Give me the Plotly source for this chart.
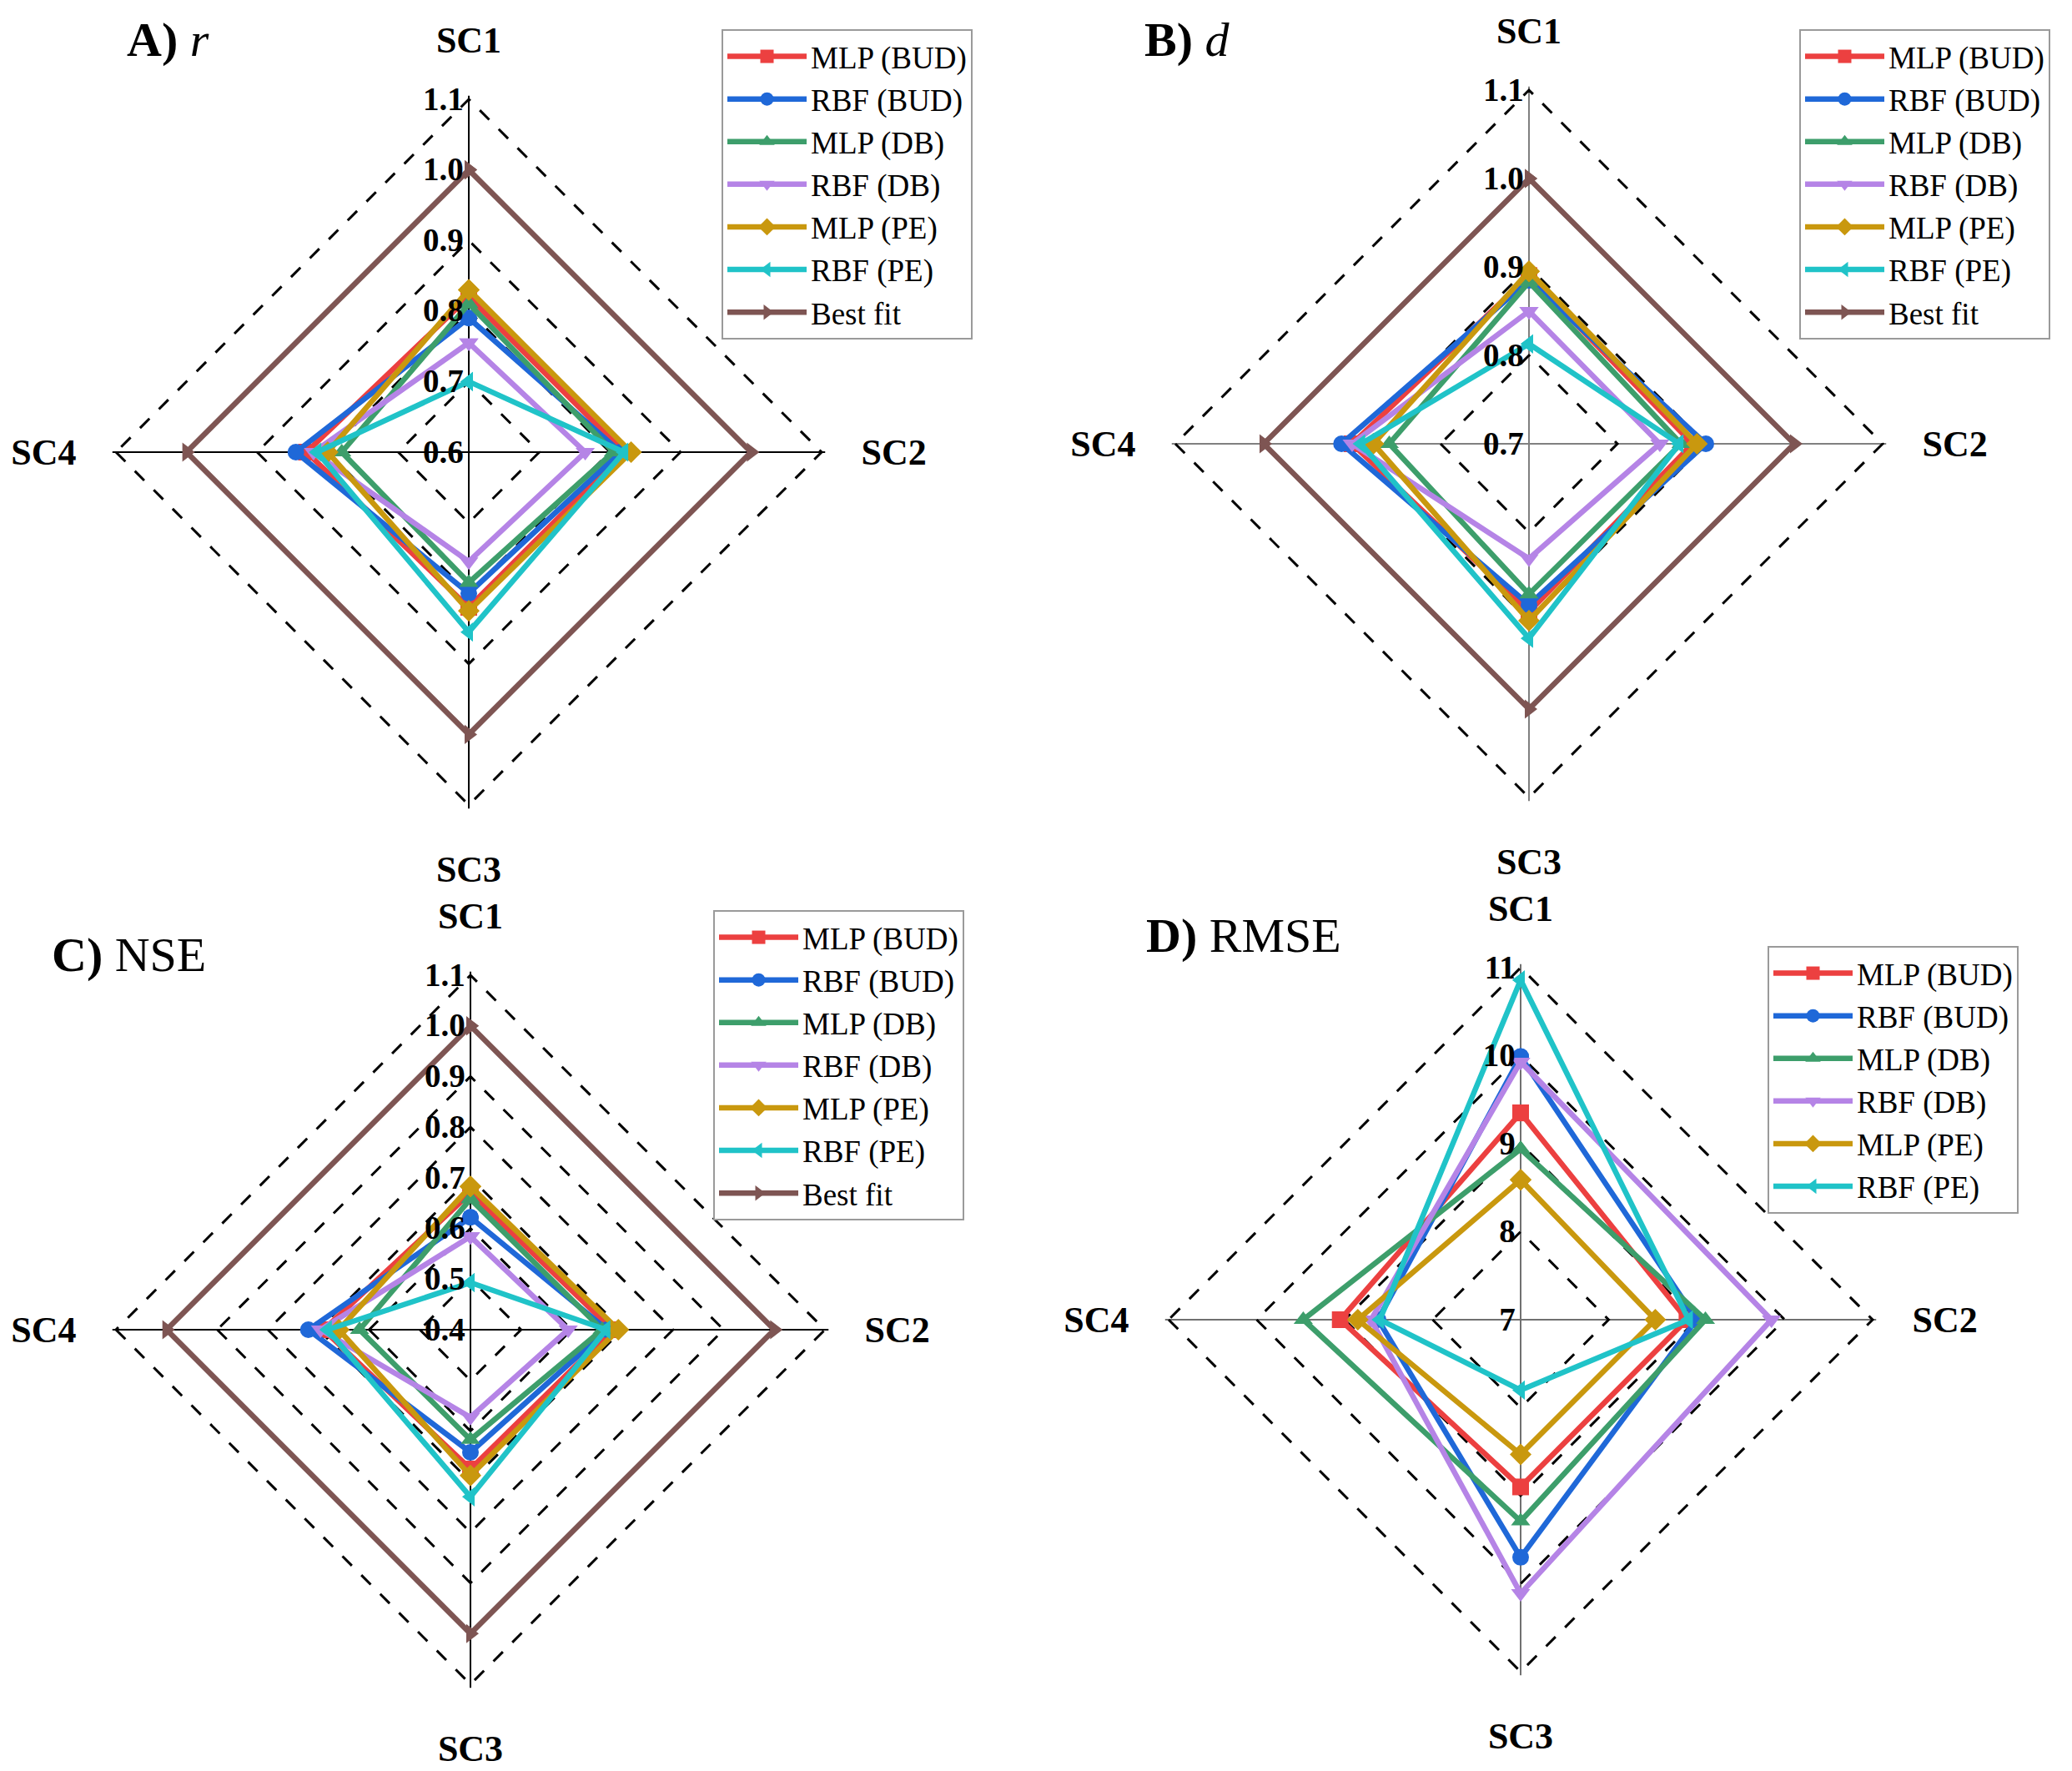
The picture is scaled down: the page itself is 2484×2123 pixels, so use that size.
import plotly.graph_objects as go

# ---------------- data ----------------
categories = ["SC1", "SC2", "SC3", "SC4"]
series_names = ["MLP (BUD)", "RBF (BUD)", "MLP (DB)", "RBF (DB)", "MLP (PE)", "RBF (PE)", "Best fit"]

# Panel A: r
r_mlp_bud = [0.82, 0.82, 0.82, 0.83]
r_rbf_bud = [0.79, 0.815, 0.80, 0.845]
r_mlp_db = [0.81, 0.805, 0.785, 0.78]
r_rbf_db = [0.755, 0.765, 0.755, 0.82]
r_mlp_pe = [0.83, 0.83, 0.825, 0.80]
r_rbf_pe = [0.70, 0.82, 0.855, 0.815]
r_best = [1.0, 1.0, 1.0, 1.0]

# Panel B: d
d_mlp_bud = [0.89, 0.885, 0.89, 0.90]
d_rbf_bud = [0.885, 0.90, 0.882, 0.912]
d_mlp_db = [0.883, 0.872, 0.87, 0.858]
d_rbf_db = [0.85, 0.848, 0.83, 0.90]
d_mlp_pe = [0.895, 0.89, 0.90, 0.876]
d_rbf_pe = [0.813, 0.87, 0.92, 0.89]
d_best = [1.0, 1.0, 1.0, 1.0]

# Panel C: NSE
nse_mlp_bud = [0.67, 0.68, 0.675, 0.69]
nse_rbf_bud = [0.622, 0.67, 0.642, 0.72]
nse_mlp_db = [0.658, 0.66, 0.617, 0.619]
nse_rbf_db = [0.584, 0.593, 0.573, 0.696]
nse_mlp_pe = [0.683, 0.692, 0.688, 0.66]
nse_rbf_pe = [0.493, 0.668, 0.73, 0.682]
nse_best = [1.0, 1.0, 1.0, 1.0]

# Panel D: RMSE
rmse_mlp_bud = [9.35, 8.89, 8.90, 9.05]
rmse_rbf_bud = [9.99, 9.00, 9.70, 8.62]
rmse_mlp_db = [8.94, 9.10, 9.29, 9.47]
rmse_rbf_db = [9.93, 9.85, 10.11, 8.70]
rmse_mlp_pe = [8.59, 8.53, 8.53, 8.85]
rmse_rbf_pe = [10.86, 8.91, 7.80, 8.60]

# radial tick labels
ticks_a = ["0.6", "0.7", "0.8", "0.9", "1.0", "1.1"]
ticks_b = ["0.7", "0.8", "0.9", "1.0", "1.1"]
ticks_c = ["0.4", "0.5", "0.6", "0.7", "0.8", "0.9", "1.0", "1.1"]
ticks_d = ["7", "8", "9", "10", "11"]

# ---------------- styles ----------------
colors = ["#EC4040", "#1F68D8", "#3D9E6B", "#B584E6", "#C9980E", "#20C3C8", "#7E5553"]
symbols = ["square", "circle", "triangle-up", "triangle-down", "diamond", "triangle-left", "triangle-right"]
SERIF = "Liberation Serif"
EXT = 0.01  # small extension of the radial range so the outer dashed ring is drawn

panels = [
    dict(name="polar", legend="legend",
         series=[r_mlp_bud, r_rbf_bud, r_mlp_db, r_rbf_db, r_mlp_pe, r_rbf_pe, r_best],
         ticks=ticks_a, spoke="#000000",
         cx=562, cy=542, R=423),
    dict(name="polar2", legend="legend2",
         series=[d_mlp_bud, d_rbf_bud, d_mlp_db, d_rbf_db, d_mlp_pe, d_rbf_pe, d_best],
         ticks=ticks_b, spoke="#808080",
         cx=1833, cy=532, R=424),
    dict(name="polar3", legend="legend3",
         series=[nse_mlp_bud, nse_rbf_bud, nse_mlp_db, nse_rbf_db, nse_mlp_pe, nse_rbf_pe, nse_best],
         ticks=ticks_c, spoke="#000000",
         cx=564, cy=1594, R=425),
    dict(name="polar4", legend="legend4",
         series=[rmse_mlp_bud, rmse_rbf_bud, rmse_mlp_db, rmse_rbf_db, rmse_mlp_pe, rmse_rbf_pe],
         ticks=ticks_d, spoke="#707070",
         cx=1823, cy=1582, R=422),
]

W, H = 2484, 2123
fig = go.Figure()

theta_closed = categories + [categories[0]]
for p in panels:
    for i, vals in enumerate(p["series"]):
        fig.add_trace(go.Scatterpolar(
            r=list(vals) + [vals[0]],
            theta=theta_closed,
            mode="lines+markers",
            name=series_names[i],
            subplot=p["name"],
            legend=p["legend"],
            line=dict(color=colors[i], width=6.5),
            marker=dict(symbol=symbols[i], size=20, color=colors[i]),
            hoverinfo="skip",
        ))

layout = dict(
    width=W, height=H,
    margin=dict(l=0, r=0, t=0, b=0),
    paper_bgcolor="white",
    plot_bgcolor="white",
    font=dict(family=SERIF, color="black"),
)

for p in panels:
    tvals = [float(t) for t in p["ticks"]]
    lo, hi = tvals[0], tvals[-1]
    Rd = p["R"] * (1 + EXT)
    cyp = H - p["cy"]
    layout[p["name"]] = dict(
        domain=dict(x=[(p["cx"] - Rd) / W, (p["cx"] + Rd) / W],
                    y=[(cyp - Rd) / H, (cyp + Rd) / H]),
        gridshape="linear",
        bgcolor="white",
        angularaxis=dict(
            rotation=90, direction="clockwise",
            categoryorder="array", categoryarray=categories,
            showline=False,
            showgrid=True, gridcolor=p["spoke"], gridwidth=2,
            ticks="outside", ticklen=34, tickcolor="rgba(0,0,0,0)",
            tickfont=dict(family=SERIF, size=44, color="black", weight="bold"),
        ),
        radialaxis=dict(
            range=[lo, hi + (hi - lo) * EXT],
            angle=90, side="counterclockwise",
            tickvals=tvals, ticktext=p["ticks"],
            showline=False, ticks="",
            showgrid=True, gridcolor="black", gridwidth=2.5, griddash="16px,16px",
            tickfont=dict(family=SERIF, size=39, color="black", weight="bold"),
            tickangle=90,
        ),
    )

legend_pos = {"legend": (865, 35), "legend2": (2157, 35), "legend3": (855, 1091), "legend4": (2119, 1134)}
for key, (lx, ly) in legend_pos.items():
    layout[key] = dict(
        x=lx / W, y=1 - ly / H, xanchor="left", yanchor="top",
        bgcolor="white", bordercolor="#9A9A9A", borderwidth=2,
        font=dict(family=SERIF, size=37, color="black"),
        itemwidth=95, tracegroupgap=0,
    )

fig.update_layout(**layout)

titles = [
    ("<b>A)</b> <i>r</i>", 150, 48),
    ("<b>B)</b> <i>d</i>", 1370, 48),
    ("<b>C)</b> NSE", 60, 1144),
    ("<b>D)</b> RMSE", 1372, 1121),
]
for txt, tx, ty in titles:
    fig.add_annotation(text=txt, x=tx / W, y=1 - ty / H, xref="paper", yref="paper",
                       xanchor="left", yanchor="middle", showarrow=False,
                       font=dict(family=SERIF, size=58, color="black"))

fig.write_html("out.html",
               config={"displayModeBar": False},
               post_script="document.body.style.margin='0';document.body.style.overflow='hidden';")
